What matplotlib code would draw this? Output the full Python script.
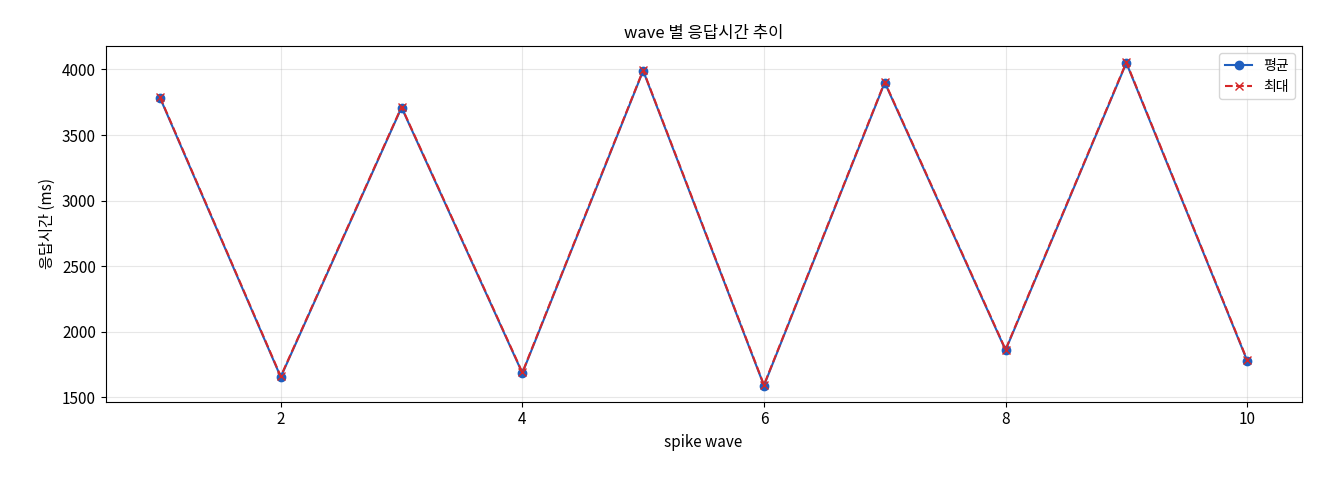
import matplotlib
matplotlib.use("Agg")
import matplotlib.pyplot as plt

plt.rcParams['font.family'] = ['Noto Sans CJK KR', 'DejaVu Sans']

waves = [1, 2, 3, 4, 5, 6, 7, 8, 9, 10]
avg_ms = [3785, 1655, 3710, 1685, 3990, 1590, 3900, 1860, 4050, 1780]
max_ms = [3790, 1660, 3715, 1690, 3995, 1595, 3905, 1865, 4055, 1785]

fig = plt.figure(figsize=(13.2, 4.8), dpi=100)
ax = fig.add_axes([0.08, 0.163, 0.906, 0.741])
ax.plot(waves, avg_ms, '-o', color='#1f5fbf', label='평균', markersize=6)
ax.plot(waves, max_ms, '--x', color='#d62728', label='최대', markersize=6)
ax.set_title('wave 별 응답시간 추이', fontsize=12)
ax.set_xlabel('spike wave', fontsize=11)
ax.set_ylabel('응답시간 (ms)', fontsize=11)
ax.tick_params(labelsize=11)
ax.grid(True, alpha=0.3)
ax.legend(loc='upper right', fontsize=10)
fig.savefig('out.png')
